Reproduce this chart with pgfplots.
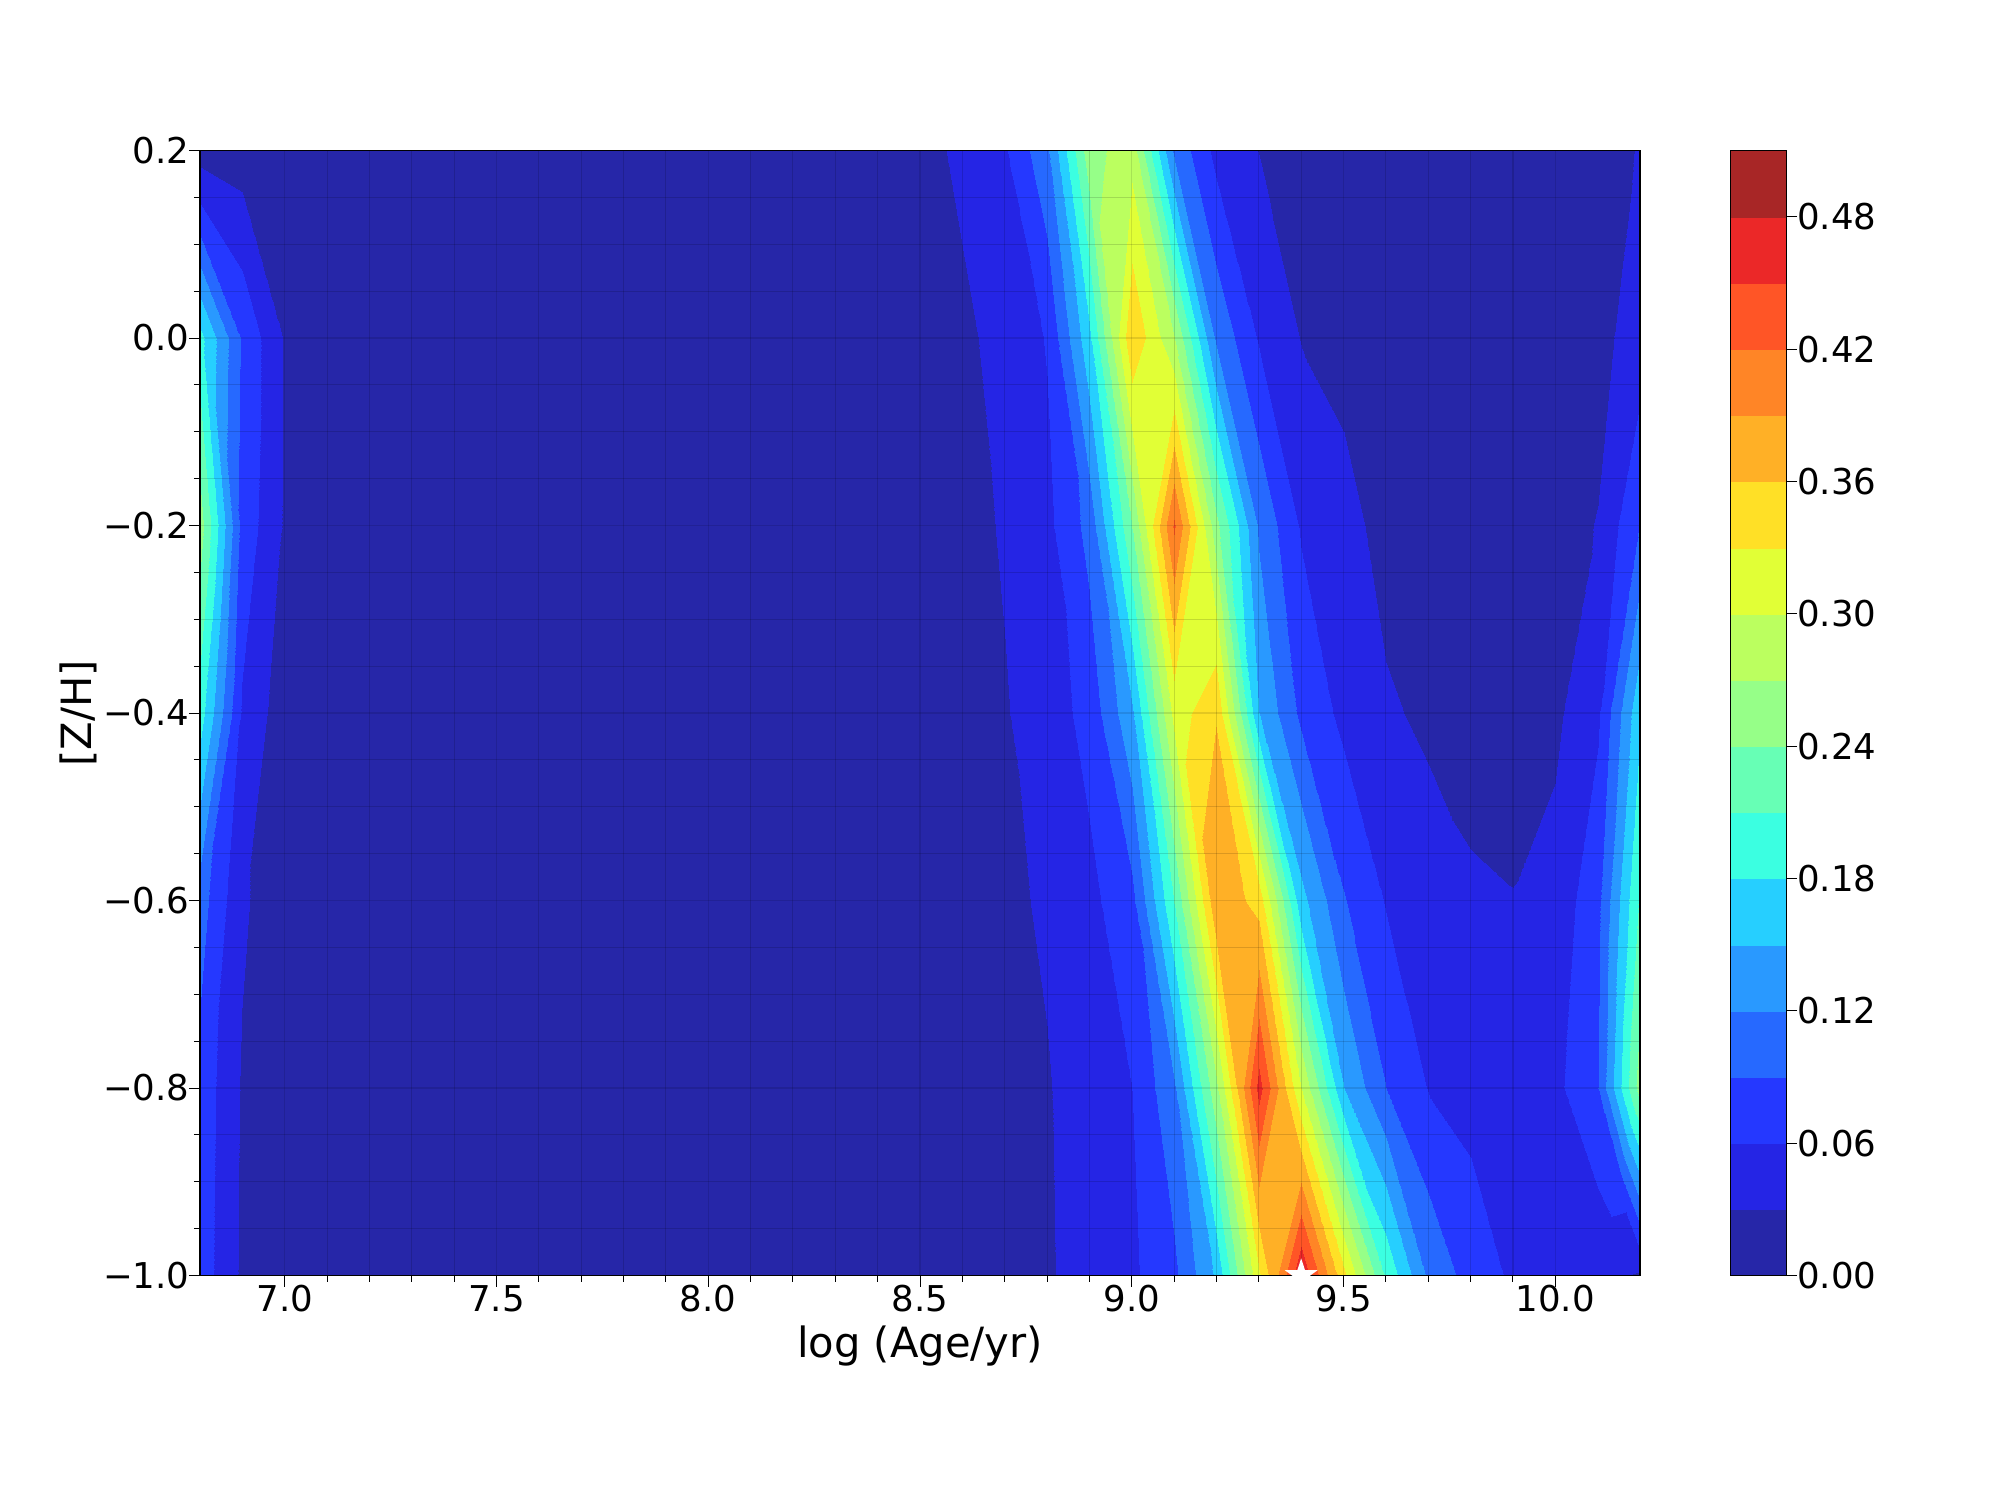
\documentclass[border=0pt]{standalone}
\usepackage{pgfplots}
\usepackage{pgfplotstable}
\usepackage{fontspec}
\setmainfont{DejaVu Sans}
\pgfplotsset{compat=1.18}
\pgfdeclareplotmark{fstar}{%
  \pgfpathmoveto{\pgfqpointpolar{90}{\pgfplotmarksize}}%
  \pgfpathlineto{\pgfqpointpolar{126}{0.382\pgfplotmarksize}}%
  \pgfpathlineto{\pgfqpointpolar{162}{\pgfplotmarksize}}%
  \pgfpathlineto{\pgfqpointpolar{198}{0.382\pgfplotmarksize}}%
  \pgfpathlineto{\pgfqpointpolar{234}{\pgfplotmarksize}}%
  \pgfpathlineto{\pgfqpointpolar{270}{0.382\pgfplotmarksize}}%
  \pgfpathlineto{\pgfqpointpolar{306}{\pgfplotmarksize}}%
  \pgfpathlineto{\pgfqpointpolar{342}{0.382\pgfplotmarksize}}%
  \pgfpathlineto{\pgfqpointpolar{18}{\pgfplotmarksize}}%
  \pgfpathlineto{\pgfqpointpolar{54}{0.382\pgfplotmarksize}}%
  \pgfpathclose\pgfusepathqfill}
\pgfplotsset{
  colormap={jetalpha}{
    rgb255=(38,38,168) rgb255=(37,37,229) rgb255=(37,56,255) rgb255=(38,105,255)
    rgb255=(41,153,255) rgb255=(38,207,255) rgb255=(59,255,225) rgb255=(103,255,181)
    rgb255=(150,255,136) rgb255=(187,255,95) rgb255=(225,255,54) rgb255=(255,224,38)
    rgb255=(255,176,38) rgb255=(255,133,38) rgb255=(255,85,38) rgb255=(235,40,40)
    rgb255=(168,38,38)}
}
\pgfplotstableread{
x y z
6.8 -1.0 .077
6.9 -1.0 .025
7.0 -1.0 .010
7.1 -1.0 .006
7.2 -1.0 .005
7.3 -1.0 .004
7.4 -1.0 .004
7.5 -1.0 .003
7.6 -1.0 .003
7.7 -1.0 .003
7.8 -1.0 .003
7.9 -1.0 .003
8.0 -1.0 .003
8.1 -1.0 .003
8.2 -1.0 .004
8.3 -1.0 .005
8.4 -1.0 .006
8.5 -1.0 .008
8.6 -1.0 .012
8.7 -1.0 .018
8.8 -1.0 .027
8.9 -1.0 .042
9.0 -1.0 .055
9.1 -1.0 .083
9.2 -1.0 .155
9.3 -1.0 .325
9.4 -1.0 .478
9.5 -1.0 .338
9.6 -1.0 .205
9.7 -1.0 .115
9.8 -1.0 .077
9.9 -1.0 .055
10.0 -1.0 .045
10.1 -1.0 .034
10.2 -1.0 .028
6.8 -0.8 .080
6.9 -0.8 .027
7.0 -0.8 .012
7.1 -0.8 .007
7.2 -0.8 .005
7.3 -0.8 .004
7.4 -0.8 .004
7.5 -0.8 .003
7.6 -0.8 .003
7.7 -0.8 .003
7.8 -0.8 .003
7.9 -0.8 .003
8.0 -0.8 .003
8.1 -0.8 .004
8.2 -0.8 .004
8.3 -0.8 .005
8.4 -0.8 .007
8.5 -0.8 .009
8.6 -0.8 .013
8.7 -0.8 .020
8.8 -0.8 .028
8.9 -0.8 .045
9.0 -0.8 .060
9.1 -0.8 .115
9.2 -0.8 .262
9.3 -0.8 .462
9.4 -0.8 .300
9.5 -0.8 .150
9.6 -0.8 .090
9.7 -0.8 .059
9.8 -0.8 .050
9.9 -0.8 .045
10.0 -0.8 .052
10.1 -0.8 .090
10.2 -0.8 .255
6.8 -0.6 .104
6.9 -0.6 .034
7.0 -0.6 .012
7.1 -0.6 .007
7.2 -0.6 .005
7.3 -0.6 .004
7.4 -0.6 .004
7.5 -0.6 .003
7.6 -0.6 .003
7.7 -0.6 .003
7.8 -0.6 .003
7.9 -0.6 .003
8.0 -0.6 .003
8.1 -0.6 .004
8.2 -0.6 .005
8.3 -0.6 .006
8.4 -0.6 .008
8.5 -0.6 .010
8.6 -0.6 .016
8.7 -0.6 .024
8.8 -0.6 .034
8.9 -0.6 .052
9.0 -0.6 .081
9.1 -0.6 .210
9.2 -0.6 .385
9.3 -0.6 .348
9.4 -0.6 .160
9.5 -0.6 .092
9.6 -0.6 .058
9.7 -0.6 .041
9.8 -0.6 .033
9.9 -0.6 .0307
10.0 -0.6 .040
10.1 -0.6 .082
10.2 -0.6 .215
6.8 -0.4 .195
6.9 -0.4 .056
7.0 -0.4 .012
7.1 -0.4 .008
7.2 -0.4 .006
7.3 -0.4 .005
7.4 -0.4 .004
7.5 -0.4 .004
7.6 -0.4 .003
7.7 -0.4 .003
7.8 -0.4 .003
7.9 -0.4 .003
8.0 -0.4 .003
8.1 -0.4 .004
8.2 -0.4 .005
8.3 -0.4 .007
8.4 -0.4 .009
8.5 -0.4 .012
8.6 -0.4 .018
8.7 -0.4 .028
8.8 -0.4 .045
8.9 -0.4 .070
9.0 -0.4 .145
9.1 -0.4 .310
9.2 -0.4 .358
9.3 -0.4 .150
9.4 -0.4 .083
9.5 -0.4 .052
9.6 -0.4 .033
9.7 -0.4 .026
9.8 -0.4 .022
9.9 -0.4 .021
10.0 -0.4 .024
10.1 -0.4 .055
10.2 -0.4 .175
6.8 -0.2 .255
6.9 -0.2 .080
7.0 -0.2 .026
7.1 -0.2 .012
7.2 -0.2 .008
7.3 -0.2 .006
7.4 -0.2 .005
7.5 -0.2 .004
7.6 -0.2 .004
7.7 -0.2 .003
7.8 -0.2 .003
7.9 -0.2 .003
8.0 -0.2 .004
8.1 -0.2 .005
8.2 -0.2 .006
8.3 -0.2 .008
8.4 -0.2 .010
8.5 -0.2 .013
8.6 -0.2 .020
8.7 -0.2 .033
8.8 -0.2 .052
8.9 -0.2 .100
9.0 -0.2 .240
9.1 -0.2 .425
9.2 -0.2 .250
9.3 -0.2 .115
9.4 -0.2 .057
9.5 -0.2 .038
9.6 -0.2 .022
9.7 -0.2 .018
9.8 -0.2 .016
9.9 -0.2 .018
10.0 -0.2 .022
10.1 -0.2 .031
10.2 -0.2 .092
6.8 0.0 .190
6.9 0.0 .086
7.0 0.0 .027
7.1 0.0 .012
7.2 0.0 .008
7.3 0.0 .006
7.4 0.0 .005
7.5 0.0 .004
7.6 0.0 .004
7.7 0.0 .004
7.8 0.0 .004
7.9 0.0 .004
8.0 0.0 .004
8.1 0.0 .005
8.2 0.0 .007
8.3 0.0 .009
8.4 0.0 .012
8.5 0.0 .016
8.6 0.0 .024
8.7 0.0 .040
8.8 0.0 .062
8.9 0.0 .172
9.0 0.0 .358
9.1 0.0 .272
9.2 0.0 .115
9.3 0.0 .057
9.4 0.0 .029
9.5 0.0 .022
9.6 0.0 .018
9.7 0.0 .015
9.8 0.0 .013
9.9 0.0 .013
10.0 0.0 .015
10.1 0.0 .022
10.2 0.0 .043
6.8 0.2 .013
6.9 0.2 .015
7.0 0.2 .008
7.1 0.2 .006
7.2 0.2 .005
7.3 0.2 .004
7.4 0.2 .004
7.5 0.2 .004
7.6 0.2 .004
7.7 0.2 .004
7.8 0.2 .004
7.9 0.2 .005
8.0 0.2 .005
8.1 0.2 .006
8.2 0.2 .008
8.3 0.2 .011
8.4 0.2 .015
8.5 0.2 .020
8.6 0.2 .036
8.7 0.2 .057
8.8 0.2 .114
8.9 0.2 .258
9.0 0.2 .288
9.1 0.2 .115
9.2 0.2 .051
9.3 0.2 .0295
9.4 0.2 .022
9.5 0.2 .018
9.6 0.2 .015
9.7 0.2 .013
9.8 0.2 .012
9.9 0.2 .012
10.0 0.2 .013
10.1 0.2 .018
10.2 0.2 .032
}\datatable
\pgfplotstableread{
x y z
9.9 0.2 .012
10.0 0.2 .013
10.1 0.2 .018
10.2 0.2 .032
9.9 0.0 .013
10.0 0.0 .015
10.1 0.0 .022
10.2 0.0 .043
9.9 -0.2 .018
10.0 -0.2 .022
10.1 -0.2 .031
10.2 -0.2 .092
9.9 -0.4 .021
10.0 -0.4 .024
10.1 -0.4 .055
10.2 -0.4 .175
9.9 -0.6 .0307
10.0 -0.6 .040
10.1 -0.6 .082
10.2 -0.6 .215
9.9 -0.8 .045
10.0 -0.8 .052
10.1 -0.8 .090
10.2 -0.8 .255
}\rightpart
\pgfplotstableread{
x y z
6.8 -0.2 .255
6.9 -0.2 .080
7.0 -0.2 .026
6.8 -0.4 .195
6.9 -0.4 .056
7.0 -0.4 .012
6.8 -0.6 .104
6.9 -0.6 .034
7.0 -0.6 .012
6.8 -0.8 .080
6.9 -0.8 .027
7.0 -0.8 .012
6.8 -1.0 .077
6.9 -1.0 .025
7.0 -1.0 .010
}\leftpart
\pgfplotstableread{
x y z
9.0 0.0 .358
8.9634 0.0 .29
9.0 0.194 .29
8.9634 0.0 .29
9.0 0.194 .29
9.0 0.2 .288
8.9634 0.0 .29
9.0 0.2 .288
8.9 0.2 .258
8.9 0.0 .172
8.9634 0.0 .29
8.9 0.2 .258
9.1 -0.2 .425
9.0405 -0.2 .315
9.1 -0.0562 .315
9.0 0.0 .358
9.05 0.0 .315
9.0 -0.0729 .315
9.0 -0.2 .240
9.0405 -0.2 .315
9.0 -0.0729 .315
9.1 0.0 .272
9.1 -0.0562 .315
9.05 0.0 .315
9.0405 -0.2 .315
9.1 -0.0562 .315
9.05 0.0 .315
9.0405 -0.2 .315
9.05 0.0 .315
9.0 -0.0729 .315
9.2 -0.4 .358
9.1208 -0.4 .32
9.2 -0.3296 .32
9.1 -0.2 .425
9.16 -0.2 .32
9.1 -0.3826 .32
9.1 -0.4 .310
9.1208 -0.4 .32
9.1 -0.3826 .32
9.2 -0.2 .250
9.2 -0.3296 .32
9.16 -0.2 .32
9.1208 -0.4 .32
9.2 -0.3296 .32
9.16 -0.2 .32
9.1208 -0.4 .32
9.16 -0.2 .32
9.1 -0.3826 .32
9.3 -0.8 .462
9.2565 -0.8 .375
9.3 -0.6474 .375
9.2 -0.6 .385
9.227 -0.6 .375
9.2 -0.6163 .375
9.2 -0.8 .262
9.2565 -0.8 .375
9.2 -0.6163 .375
9.3 -0.6 .348
9.3 -0.6474 .375
9.227 -0.6 .375
9.2565 -0.8 .375
9.3 -0.6474 .375
9.227 -0.6 .375
9.2565 -0.8 .375
9.227 -0.6 .375
9.2 -0.6163 .375
9.4 -1.0 .478
9.3327 -1.0 .375
9.4 -0.8843 .375
9.3 -0.8 .462
9.3537 -0.8 .375
9.3 -0.927 .375
9.3 -1.0 .325
9.3327 -1.0 .375
9.3 -0.927 .375
9.4 -0.8 .300
9.4 -0.8843 .375
9.3537 -0.8 .375
9.3327 -1.0 .375
9.4 -0.8843 .375
9.3537 -0.8 .375
9.3327 -1.0 .375
9.3537 -0.8 .375
9.3 -0.927 .375
6.8 -0.4 .195
6.9 -0.4 .056
6.85 -0.3 .1465
6.9 -0.4 .056
6.9 -0.2 .080
6.85 -0.3 .1465
6.9 -0.2 .080
6.8 -0.2 .255
6.85 -0.3 .1465
6.8 -0.2 .255
6.8 -0.4 .195
6.85 -0.3 .1465
10.1 -0.8 .090
10.2 -0.8 .255
10.15 -0.7 .161
10.2 -0.8 .255
10.2 -0.6 .215
10.15 -0.7 .161
10.2 -0.6 .215
10.1 -0.6 .082
10.15 -0.7 .161
10.1 -0.6 .082
10.1 -0.8 .090
10.15 -0.7 .161
6.8 0.2 .013
6.9 0.2 .015
6.9 0.156 .0301
6.8 0.2 .013
6.9 0.156 .0301
6.8 0.182 .0301
6.8 0.182 .0301
6.9 0.156 .0301
6.9 0.072 .0601
6.8 0.182 .0301
6.9 0.072 .0601
6.8 0.143 .0601
6.8 0.143 .0601
6.9 0.072 .0601
6.9 0.0 .086
6.8 0.143 .0601
6.9 0.0 .086
6.8 0.0 .190
10.1 -1.0 .034
10.2 -1.0 .028
10.15 -0.9 .075
10.2 -1.0 .028
10.2 -0.8 .255
10.15 -0.9 .075
10.2 -0.8 .255
10.1 -0.8 .090
10.15 -0.9 .075
10.1 -0.8 .090
10.1 -1.0 .034
10.15 -0.9 .075
}\fancells
\pgfplotstableread{
x y
0 0
1 0
0 0.51
1 0.51
}\cbartable
\begin{document}
\begin{tikzpicture}
\path[use as bounding box] (0,0) rectangle (720bp,540bp);
\begin{axis}[
  at={(72bp,80.8bp)}, anchor=south west,
  scale only axis, width=518.4bp, height=405bp,
  xmin=6.8, xmax=10.2, ymin=-1.0, ymax=0.2,
  clip mode=global,
  axis on top,
  colormap name=jetalpha,
  colormap access=piecewise constant,
  point meta min=0, point meta max=0.51,
  xtick={7,7.5,8,8.5,9,9.5,10},
  xticklabels={7.0,7.5,8.0,8.5,9.0,9.5,10.0},
  ytick={-1,-0.8,-0.6,-0.4,-0.2,0,0.2},
  yticklabels={−1.0,−0.8,−0.6,−0.4,−0.2,0.0,0.2},
  minor x tick num=4, minor y tick num=3,
  xtick pos=bottom, ytick pos=left,
  tick align=outside,
  major tick length=4bp, minor tick length=2.2bp,
  tick style={black, line width=0.35bp},
  grid=both,
  major grid style={black, opacity=0.11, line width=0.4bp},
  minor grid style={black, opacity=0.14, line width=0.4bp},
  axis line style={black, line width=0.45bp},
  tick label style={font=\fontsize{12.8bp}{15bp}\selectfont},
  xticklabel style={yshift=4bp},
  yticklabel style={xshift=3.7bp},
  xlabel={log (Age/yr)}, ylabel={[Z/H]},
  label style={font=\fontsize{15bp}{18bp}\selectfont},
  xlabel style={at={(axis description cs:0.5,0)}, anchor=north, yshift=-14.5bp},
  ylabel style={at={(axis description cs:0,0.5)}, anchor=south, yshift=33.5bp},
]
\addplot[surf, shader=interp, mesh/rows=7, mesh/cols=35, point meta=\thisrow{z}]
  table[x=x,y=y] {\datatable};
\addplot[surf, shader=interp, mesh/rows=6, mesh/cols=4, point meta=\thisrow{z}]
  table[x=x,y=y] {\rightpart};
\addplot[surf, shader=interp, mesh/rows=5, mesh/cols=3, point meta=\thisrow{z}]
  table[x=x,y=y] {\leftpart};
\addplot[patch, patch type=triangle, shader=interp, point meta=\thisrow{z}]
  table[x=x,y=y] {\fancells};
\addplot[only marks, mark=fstar, mark size=6.2bp, color=white, forget plot] coordinates {(9.4,-1.0)};
\end{axis}
\begin{axis}[
  at={(623bp,80.8bp)}, anchor=south west,
  scale only axis, width=20bp, height=405bp,
  xmin=0, xmax=1, ymin=0, ymax=0.51,
  axis on top,
  colormap name=jetalpha,
  colormap access=piecewise constant,
  point meta min=0, point meta max=0.51,
  xtick=\empty,
  ytick={0,0.06,0.12,0.18,0.24,0.30,0.36,0.42,0.48},
  yticklabels={0.00,0.06,0.12,0.18,0.24,0.30,0.36,0.42,0.48},
  ytick pos=right, tick align=outside,
  major tick length=4bp,
  tick style={black, line width=0.35bp},
  axis line style={black, line width=0.45bp},
  tick label style={font=\fontsize{12.8bp}{15bp}\selectfont},
  yticklabel style={xshift=-3.5bp},
]
\addplot[surf, shader=interp, mesh/rows=2, mesh/cols=2, point meta=y]
  table[x=x,y=y] {\cbartable};
\end{axis}
\end{tikzpicture}
\end{document}
